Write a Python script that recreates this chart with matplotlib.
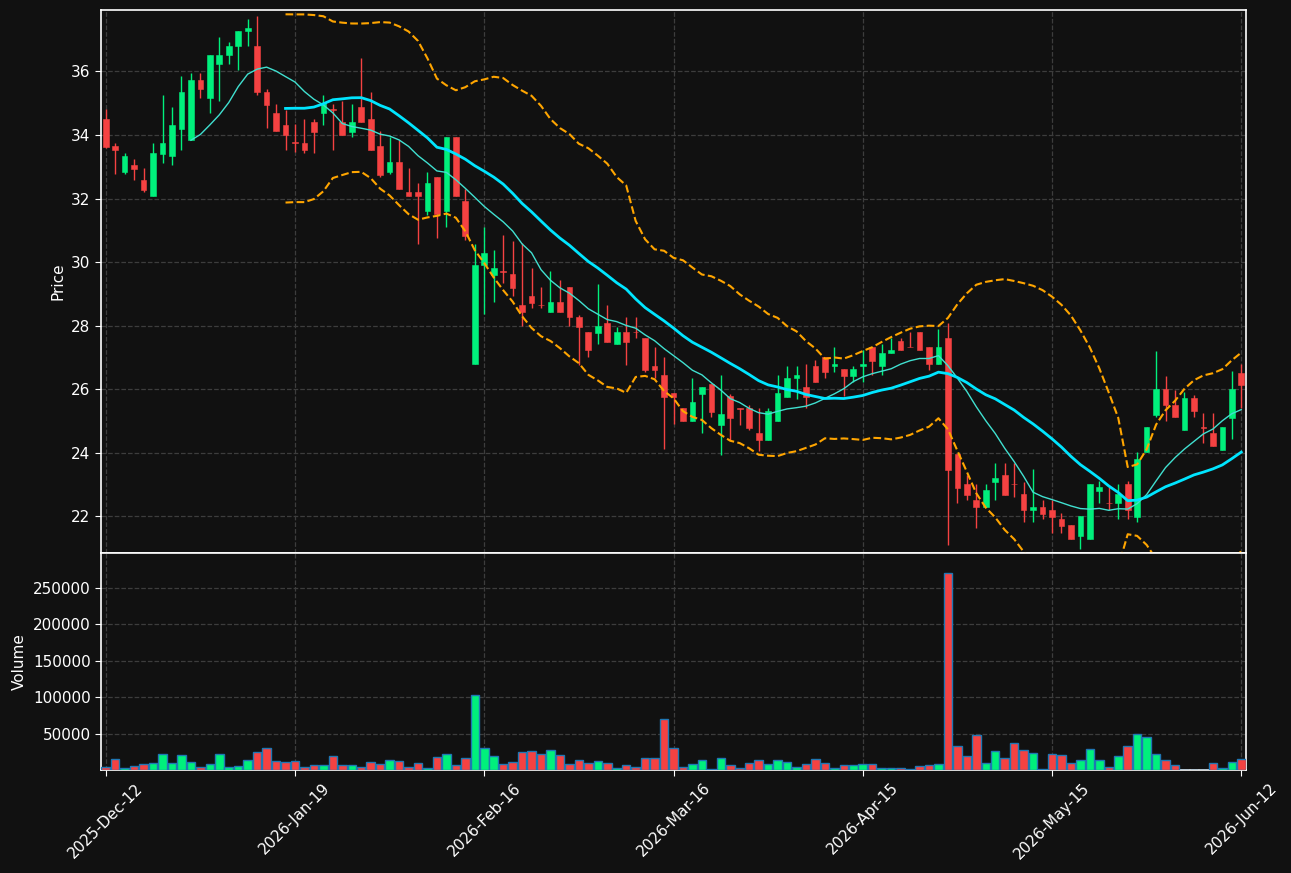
import numpy as np
import pandas as pd
import matplotlib
matplotlib.use("Agg")
import matplotlib.pyplot as plt

# ---------------- data ----------------
opens = [34.51, 33.66, 32.85, 33.06, 32.59, 32.08, 33.41, 33.33, 34.20, 33.83,
         35.74, 35.15, 36.22, 36.50, 36.79, 37.26, 36.81, 35.36, 34.70, 34.32,
         33.76, 33.76, 34.41, 34.68, 34.82, 34.41, 34.10, 34.89, 34.51, 33.66,
         32.85, 33.15, 32.21, 32.21, 31.62, 32.69, 31.62, 33.95, 31.92, 26.81,
         29.90, 29.60, 29.72, 29.63, 28.66, 28.93, 28.66, 28.44, 28.74, 29.21,
         28.27, 27.80, 27.78, 28.07, 27.41, 27.80, 27.81, 27.61, 26.73, 26.45,
         25.88, 25.40, 25.01, 25.86, 26.17, 24.89, 25.79, 25.41, 25.40, 24.63,
         24.41, 25.01, 25.77, 26.34, 26.06, 26.73, 27.02, 26.73, 26.64, 26.42,
         26.73, 27.33, 26.73, 27.13, 27.52, 27.34, 27.80, 27.33, 26.81, 27.61,
         23.97, 23.02, 22.52, 22.31, 23.08, 23.30, 23.03, 22.70, 22.20, 22.31,
         22.20, 21.91, 21.73, 21.39, 21.29, 22.81, 22.43, 22.42, 23.02, 21.98,
         24.02, 25.20, 26.01, 25.51, 24.71, 25.73, 24.80, 24.63, 24.10, 25.11,
         26.51]
highs = [34.81, 33.74, 33.44, 33.24, 32.97, 33.74, 35.25, 34.88, 35.86, 35.95,
         35.95, 36.52, 37.08, 36.91, 37.28, 37.66, 37.75, 35.45, 34.97, 34.79,
         34.35, 34.51, 34.51, 35.25, 34.97, 35.06, 34.97, 36.42, 35.36, 34.12,
         33.93, 33.85, 32.96, 32.49, 32.85, 32.69, 33.95, 33.95, 32.30, 30.56,
         31.12, 30.39, 30.84, 30.67, 30.59, 29.82, 29.21, 29.71, 29.43, 29.21,
         28.35, 27.80, 29.32, 28.64, 27.96, 28.27, 28.27, 27.61, 27.33, 27.00,
         25.88, 25.40, 26.34, 26.06, 26.17, 26.45, 25.86, 25.41, 25.51, 25.40,
         25.40, 26.45, 26.73, 26.73, 26.81, 26.91, 27.02, 27.33, 26.64, 26.73,
         27.22, 27.33, 27.41, 27.61, 27.61, 27.80, 27.80, 27.33, 27.89, 28.07,
         23.97, 23.30, 23.02, 23.02, 23.68, 23.68, 23.68, 23.08, 23.50, 22.52,
         22.53, 22.11, 21.73, 22.01, 23.02, 23.10, 22.92, 23.02, 23.10, 24.02,
         24.82, 27.20, 26.42, 25.98, 25.92, 25.82, 25.24, 25.24, 24.82, 26.59,
         26.81]
lows = [33.60, 32.77, 32.77, 32.58, 32.19, 32.08, 33.13, 33.04, 33.52, 33.83,
        35.15, 34.68, 35.06, 36.22, 36.04, 36.80, 35.25, 34.21, 34.11, 33.52,
        33.46, 33.43, 33.43, 34.31, 33.52, 34.01, 33.93, 34.40, 33.52, 32.67,
        32.77, 32.29, 32.08, 30.56, 31.47, 30.76, 31.12, 32.08, 30.68, 26.81,
        28.36, 28.74, 29.35, 28.93, 28.00, 28.55, 28.55, 28.44, 28.44, 28.00,
        26.77, 27.00, 27.41, 27.50, 27.41, 26.77, 27.61, 26.53, 26.34, 24.13,
        24.90, 25.01, 25.01, 24.61, 25.13, 23.94, 24.41, 24.89, 24.72, 24.05,
        24.41, 25.01, 25.77, 25.68, 25.40, 26.23, 26.34, 26.53, 25.79, 26.23,
        26.23, 26.45, 26.45, 27.13, 27.22, 27.33, 27.22, 26.62, 26.81, 21.09,
        22.42, 22.53, 21.65, 22.31, 22.52, 22.68, 22.61, 21.81, 21.81, 21.91,
        21.48, 21.48, 21.29, 20.98, 21.29, 22.42, 22.20, 21.91, 21.91, 21.81,
        24.02, 25.13, 25.01, 25.13, 24.71, 25.13, 24.30, 24.21, 24.10, 24.43,
        25.40]
closes = [33.63, 33.52, 33.35, 32.93, 32.28, 33.44, 33.76, 34.32, 35.36, 35.74,
          35.44, 36.52, 36.52, 36.81, 37.28, 37.37, 35.34, 34.95, 34.11, 34.01,
          33.74, 33.52, 34.10, 35.01, 34.80, 34.01, 34.41, 34.40, 33.52, 32.74,
          33.15, 32.29, 32.08, 32.08, 32.50, 31.51, 33.95, 32.08, 30.83, 29.91,
          30.29, 29.82, 29.70, 29.20, 28.44, 28.71, 28.64, 28.74, 28.44, 28.26,
          27.97, 27.22, 28.00, 27.50, 27.80, 27.50, 27.79, 26.62, 26.62, 25.77,
          25.77, 25.01, 25.60, 26.06, 25.29, 25.21, 25.10, 25.39, 24.79, 24.41,
          25.32, 25.89, 26.36, 26.45, 25.77, 26.23, 26.53, 26.81, 26.42, 26.64,
          26.81, 26.89, 27.13, 27.22, 27.22, 27.32, 27.22, 26.81, 27.33, 23.47,
          22.91, 22.68, 22.31, 22.83, 23.21, 22.68, 23.01, 22.20, 22.31, 22.09,
          21.98, 21.70, 21.29, 22.01, 23.02, 22.92, 22.41, 22.70, 22.20, 23.80,
          24.82, 26.01, 25.49, 25.13, 25.73, 25.31, 24.78, 24.21, 24.82, 26.01,
          26.12]
volumes = [3700, 14700, 2300, 5000, 7800, 9600, 21600, 9200, 20200, 10500,
           4600, 7800, 21600, 4600, 6000, 13300, 24300, 29800, 12400, 10500,
           12400, 4600, 6400, 6400, 18800, 6400, 6400, 3700, 10500, 7800,
           13300, 12400, 4600, 9200, 3200, 17400, 21600, 6400, 16100, 102700,
           29800, 18800, 7800, 10500, 24800, 25700, 21600, 27100, 20200, 7800,
           13300, 9200, 11900, 9200, 3200, 6400, 3700, 16100, 16100, 69700,
           29800, 3700, 7800, 13300, 900, 16100, 6400, 2300, 9200, 13300,
           7800, 13300, 10500, 4600, 7800, 14700, 9200, 3200, 6400, 6400,
           7800, 7800, 3200, 3200, 2300, 1800, 5000, 6400, 7800, 270600,
           32600, 18800, 47700, 9200, 25700, 16100, 36700, 27100, 22900, 1800,
           21600, 20200, 9200, 13300, 28400, 13300, 3700, 18800, 32600, 49100,
           45000, 21600, 13300, 6400, 500, 500, 500, 9200, 2300, 10500,
           14700]
tick_positions = [0, 20, 40, 60, 80, 100, 120]
tick_labels = ["2025-Dec-12", "2026-Jan-19", "2026-Feb-16", "2026-Mar-16",
               "2026-Apr-15", "2026-May-15", "2026-Jun-12"]
price_ticks = [22, 24, 26, 28, 30, 32, 34, 36]
volume_ticks = [50000, 100000, 150000, 200000, 250000]

# ---------------- style ----------------
BG = "#111111"
UP = "#00f07c"
DOWN = "#f54242"
GRID = "#3d3d3d"
plt.rcParams["font.family"] = ["DejaVu Sans"]
plt.rcParams["font.size"] = 11

o = np.array(opens); h = np.array(highs); l = np.array(lows); c = np.array(closes)
v = np.array(volumes, dtype=float)
x = np.arange(len(c))
up = c >= o
cols = np.where(up, UP, DOWN)

close_s = pd.Series(c)
ma10 = close_s.rolling(10).mean()
ma20 = close_s.rolling(20).mean()
sd20 = close_s.rolling(20).std(ddof=0)
upper = ma20 + 2 * sd20
lower = ma20 - 2 * sd20

fig = plt.figure(figsize=(12.91, 8.73), dpi=100, facecolor=BG)
W, H = 1291, 873
axp = fig.add_axes([101 / W, 1 - 553 / H, (1246 - 101) / W, (553 - 10) / H])
axv = fig.add_axes([101 / W, 1 - 770 / H, (1246 - 101) / W, (770 - 553) / H], sharex=axp)

for ax in (axp, axv):
    ax.set_facecolor(BG)
    for s in ax.spines.values():
        s.set_color("white")
        s.set_linewidth(1.2)
    ax.tick_params(colors="white", labelcolor="white", direction="out", length=4)
    ax.grid(True, color=GRID, linestyle="--", linewidth=0.9)
    ax.set_axisbelow(True)

# candles
axp.vlines(x, l, h, color=cols, linewidth=1.0, zorder=2)
body_bottom = np.minimum(o, c)
body_h = np.maximum(np.abs(c - o), 0.025)
axp.bar(x, body_h, bottom=body_bottom, width=0.6, color=cols,
        edgecolor=cols, linewidth=0.4, zorder=3)

# moving averages and bands
axp.plot(x, ma10, color="#40e0d0", linewidth=1.0, zorder=4)
axp.plot(x, ma20, color="#00e5ff", linewidth=2.0, zorder=4)
axp.plot(x, upper, color="orange", linestyle="--", linewidth=1.5, zorder=4)
axp.plot(x, lower, color="orange", linestyle="--", linewidth=1.5, zorder=4)

axp.set_xlim(-0.5, len(c) - 0.5)
axp.set_ylim(20.85, 37.93)
axp.set_yticks(price_ticks)
axp.set_ylabel("Price", color="white")
axp.tick_params(axis="x", labelbottom=False)

# volume
axv.bar(x, v, width=0.9, color=cols, edgecolor="#1f77b4", linewidth=1.0, zorder=3)
axv.set_ylim(0, 1.1 * v.max())
axv.set_yticks(volume_ticks)
axv.set_ylabel("Volume", color="white")
axv.set_xticks(tick_positions)
axv.set_xticklabels(tick_labels, rotation=45, ha="center")

fig.savefig("out.png", dpi=100, facecolor=BG)
